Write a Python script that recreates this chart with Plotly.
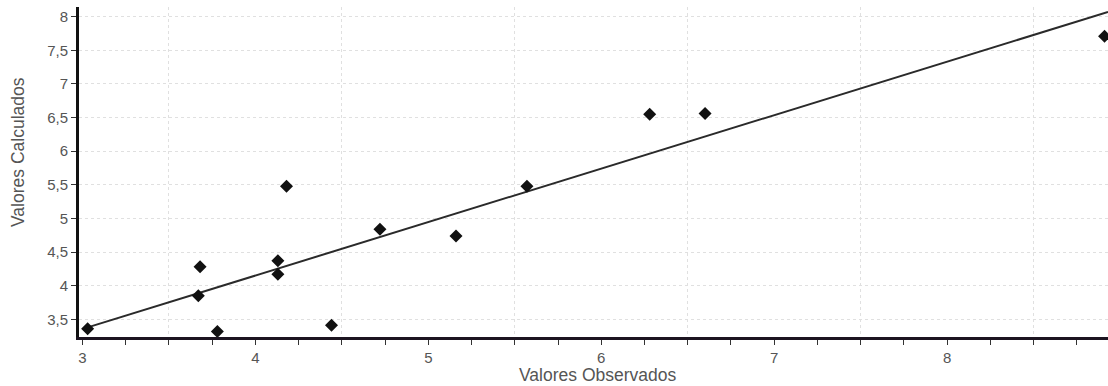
import plotly.graph_objects as go

# Observed vs calculated values
observados = [3.03, 3.68, 3.67, 3.78, 4.18, 4.13, 4.13, 4.44, 4.72, 5.16, 5.57, 6.28, 6.60, 8.91]
calculados = [3.36, 4.28, 3.85, 3.32, 5.48, 4.37, 4.17, 3.41, 4.84, 4.74, 5.48, 6.55, 6.56, 7.71]

# Trend line end points
trend_x = [3.03, 8.93]
trend_y = [3.38, 8.07]

# Axis ticks
x_tickvals = [3, 4, 5, 6, 7, 8]
x_ticktext = ["3", "4", "5", "6", "7", "8"]
x_gridvals = [3.5, 4.5, 5.5, 6.5, 7.5, 8.5]
y_tickvals = [3.5, 4, 4.5, 5, 5.5, 6, 6.5, 7, 7.5, 8]
y_ticktext = ["3,5", "4", "4,5", "5", "5,5", "6", "6,5", "7", "7,5", "8"]

FONT = "Liberation Sans, Arial, sans-serif"
GRAY = "#555555"
W, H = 1108, 386
ML, MR, MT, MB = 79, 0, 7, 49

fig = go.Figure()
fig.add_trace(go.Scatter(x=trend_x, y=trend_y, mode="lines",
                         line=dict(color="#2a2a2a", width=2), showlegend=False))
fig.add_trace(go.Scatter(x=observados, y=calculados, mode="markers",
                         marker=dict(symbol="diamond", size=10, color="#111111"),
                         showlegend=False))
# invisible trace on overlay axis to host the half-unit vertical gridlines
fig.add_trace(go.Scatter(x=[x_gridvals[0]], y=[y_tickvals[0]], xaxis="x2",
                         mode="markers", marker=dict(opacity=0), showlegend=False,
                         hoverinfo="skip"))

fig.update_layout(
    width=W, height=H,
    margin=dict(l=ML, r=MR, t=MT, b=MB),
    paper_bgcolor="white", plot_bgcolor="white",
    font=dict(family=FONT, size=15, color=GRAY),
    xaxis=dict(range=[2.98, 8.93], tickvals=x_tickvals, ticktext=x_ticktext,
               showgrid=False, zeroline=False,
               showline=True, linecolor="#1c1420", linewidth=3,
               ticks="outside", ticklen=5, tickcolor="#333",
               minor=dict(dtick=0.25, tick0=3, ticks="outside", ticklen=5,
                          tickcolor="#333", showgrid=False),
               tickfont=dict(size=15, color=GRAY)),
    xaxis2=dict(overlaying="x", matches="x", tickvals=x_gridvals,
                showticklabels=False, showgrid=True, gridcolor="#e0e0e0",
                griddash="dot", gridwidth=1, zeroline=False, showline=False,
                ticks=""),
    yaxis=dict(range=[3.237, 8.144], tickvals=y_tickvals, ticktext=y_ticktext,
               showgrid=True, gridcolor="#e0e0e0", griddash="dot", gridwidth=1,
               zeroline=False, showline=True, linecolor="#111111", linewidth=3,
               ticks="outside", ticklen=5, tickcolor="#333",
               tickfont=dict(size=15, color=GRAY)),
    annotations=[
        dict(text="Valores Observados", x=598, y=375, xref="paper", yref="paper",
             showarrow=False, font=dict(size=17.5, color=GRAY)),
        dict(text="Valores Calculados", x=18, y=152, xref="paper", yref="paper",
             showarrow=False, textangle=-90, font=dict(size=17.5, color=GRAY)),
    ],
)

# convert pixel-based annotation positions to paper coordinates
plot_w = W - ML - MR
plot_h = H - MT - MB
for ann in fig.layout.annotations:
    ann.x = (ann.x - ML) / plot_w
    ann.y = (H - MB - ann.y) / plot_h
    ann.xanchor = "center"
    ann.yanchor = "middle"

fig.write_html("out.html", config={"displayModeBar": False},
               post_script="document.body.style.margin='0';document.body.style.overflow='hidden';")
